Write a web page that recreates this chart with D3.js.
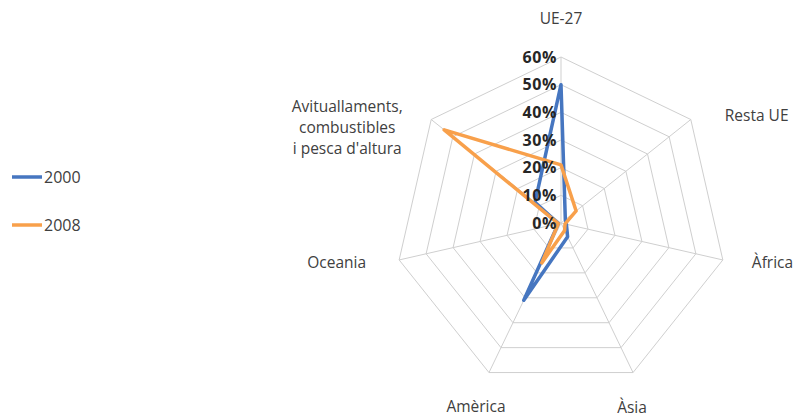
<!DOCTYPE html>
<html>
<head>
<meta charset="utf-8">
<script src="https://cdn.jsdelivr.net/npm/d3@7"></script>
<style>
  html, body { margin: 0; padding: 0; background: #fff; }
  svg { display: block; }
</style>
</head>
<body>
<svg id="chart" width="800" height="418"></svg>
<script>
// ---- data ----
const categories = ["UE-27", "Resta UE", "Àfrica", "Àsia", "Amèrica", "Oceania", "Avituallaments,\ncombustibles\ni pesca d'altura"];
const series2000 = [50, 2, 2, 5.5, 31, 1, 12];
const series2008 = [21, 7, 1.5, 3, 16, 1, 54];
const seriesNames = ["2000", "2008"];
const tickValues = [0, 10, 20, 30, 40, 50, 60];
const tickLabels = ["0%", "10%", "20%", "30%", "40%", "50%", "60%"];

// ---- layout ----
const svg = d3.select("#chart");
const cx = 561, cy = 223, R = 166;
const colors = ["#4676C0", "#F8A04B"];
const r = d3.scaleLinear().domain([0, 60]).range([0, R]);
const angle = d3.scaleLinear().domain([0, categories.length]).range([0, 2 * Math.PI]);
const pt = (i, v) => [cx + r(v) * Math.sin(angle(i)), cy - r(v) * Math.cos(angle(i))];

const g = svg.append("g");

// grid rings
tickValues.filter(t => t > 0).forEach(t => {
  g.append("polygon")
    .attr("points", categories.map((c, i) => pt(i, t).join(",")).join(" "))
    .attr("fill", "none")
    .attr("stroke", "#cfcfcf")
    .attr("stroke-width", 1);
});
// spokes
categories.forEach((c, i) => {
  const [x, y] = pt(i, 60);
  g.append("line")
    .attr("x1", cx).attr("y1", cy).attr("x2", x).attr("y2", y)
    .attr("stroke", "#cfcfcf").attr("stroke-width", 1);
});

// series
const line = d3.lineRadial()
  .angle((d, i) => angle(i))
  .radius(d => r(d))
  .curve(d3.curveLinearClosed);

[series2000, series2008].forEach((s, k) => {
  g.append("path")
    .attr("transform", `translate(${cx},${cy})`)
    .attr("d", line(s))
    .attr("fill", "none")
    .attr("stroke", colors[k])
    .attr("stroke-width", 3.5)
    .attr("stroke-linejoin", "round");
});

// tick labels
tickValues.forEach((t, i) => {
  g.append("text")
    .attr("x", cx - 4)
    .attr("y", cy - r(t))
    .attr("dy", "0.36em")
    .attr("text-anchor", "end")
    .attr("font-family", "'Open Sans', sans-serif")
    .attr("font-weight", 700)
    .attr("font-size", 16)
    .attr("letter-spacing", 0.6)
    .attr("fill", "#262626")
    .text(tickLabels[i]);
});

// category labels (offsets from each outer vertex)
const labelPos = [
  { dx: 0, dy: -33, anchor: "middle" },
  { dx: 34, dy: 1, anchor: "start" },
  { dx: 29, dy: 8, anchor: "start" },
  { dx: -1, dy: 40, anchor: "middle" },
  { dx: -13, dy: 39, anchor: "middle" },
  { dx: -33, dy: 8, anchor: "end" },
  { dx: -84, dy: -8, anchor: "middle" }
];
categories.forEach((c, i) => {
  const [x, y] = pt(i, 60);
  const p = labelPos[i];
  const t = g.append("text")
    .attr("x", x + p.dx)
    .attr("y", y + p.dy)
    .attr("text-anchor", p.anchor)
    .attr("font-family", "'Open Sans', sans-serif")
    .attr("font-size", 15.5)
    .attr("fill", "#404040");
  c.split("\n").forEach((ln, j) => {
    t.append("tspan")
      .attr("x", x + p.dx)
      .attr("dy", j === 0 ? 0 : 21)
      .text(ln);
  });
});

// legend
const legend = svg.append("g");
seriesNames.forEach((n, k) => {
  const y = 177 + k * 48;
  legend.append("line")
    .attr("x1", 12).attr("x2", 42).attr("y1", y).attr("y2", y)
    .attr("stroke", colors[k]).attr("stroke-width", 3.5);
  legend.append("text")
    .attr("x", 44).attr("y", y).attr("dy", "0.36em")
    .attr("font-family", "'Open Sans', sans-serif")
    .attr("font-size", 16)
    .attr("fill", "#404040")
    .text(n);
});
</script>
</body>
</html>
